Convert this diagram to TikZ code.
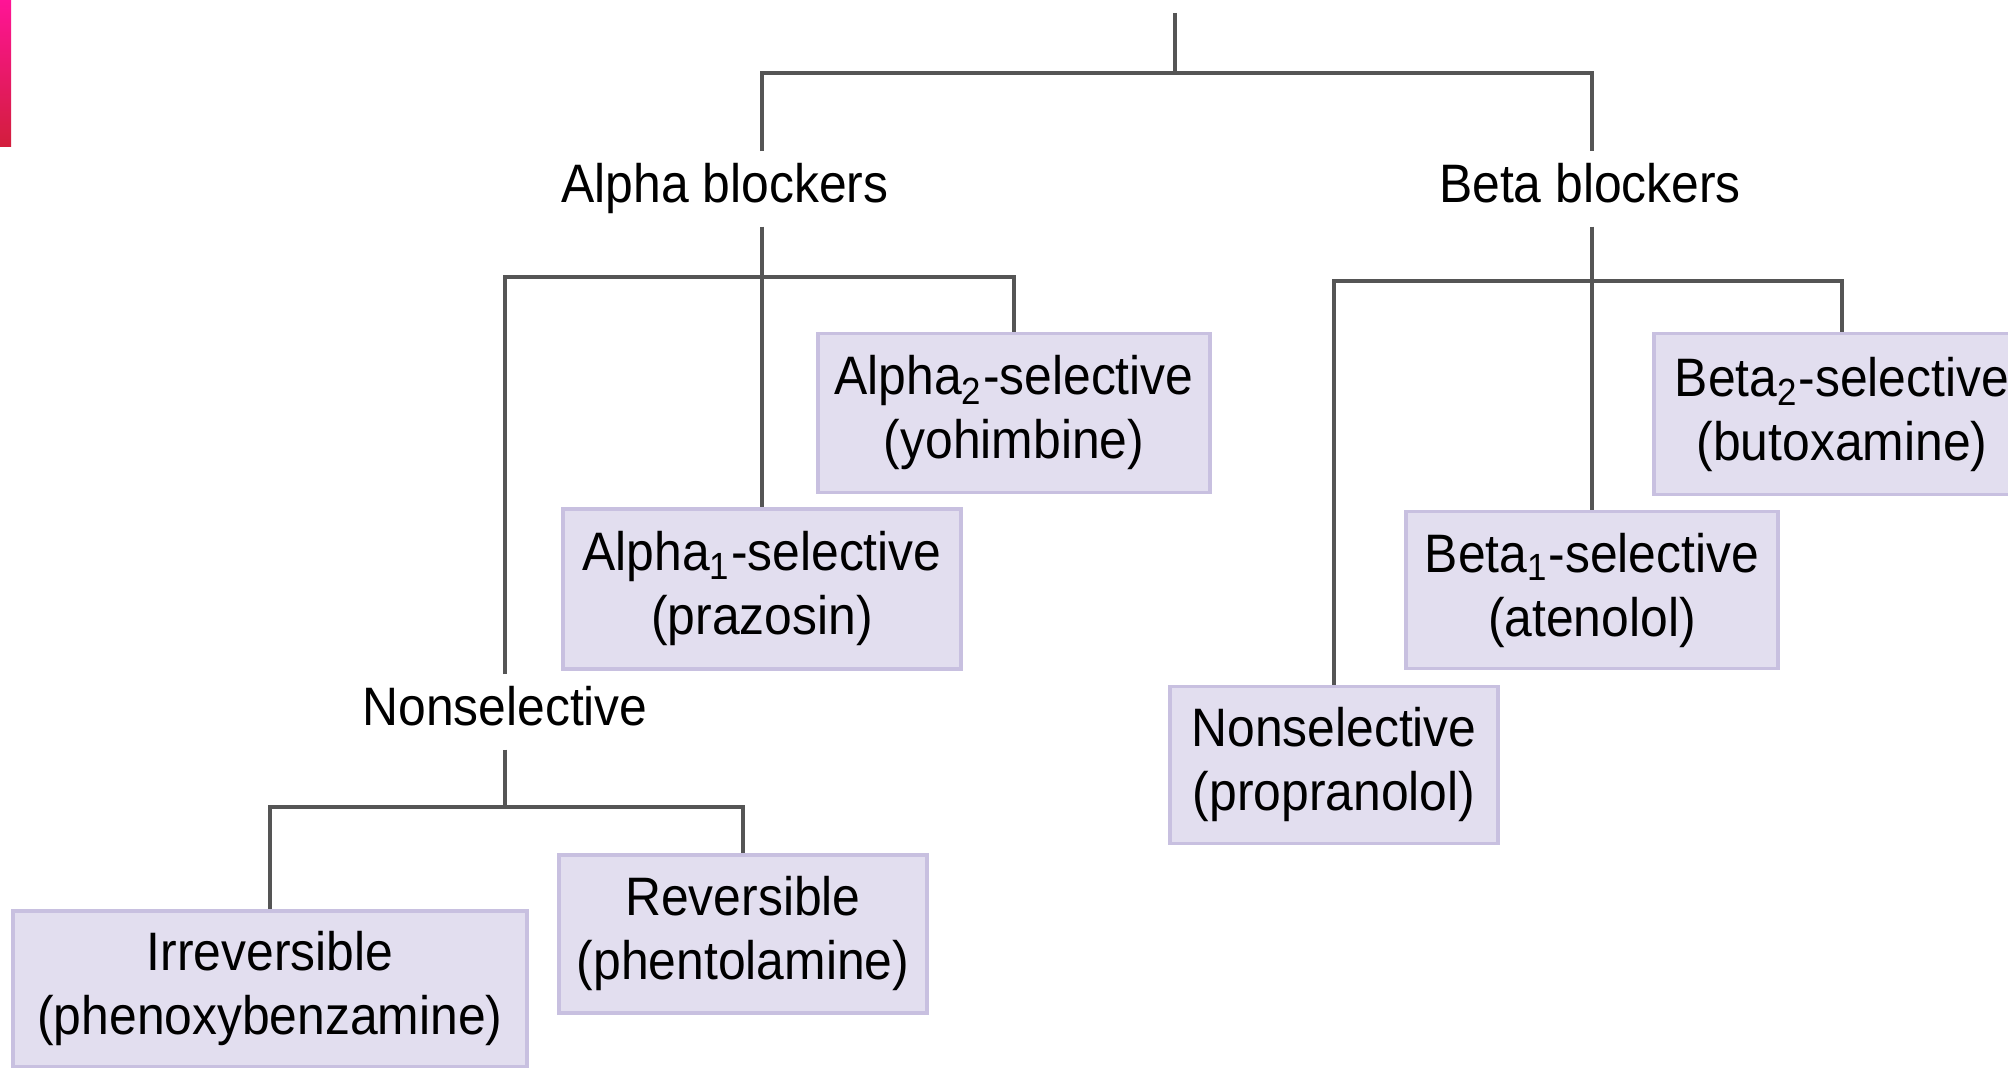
\documentclass[tikz,border=0pt]{standalone}
\usepackage{fontspec}
\setmainfont{Liberation Sans}[FakeStretch=0.92]
\usetikzlibrary{calc}

\begin{document}
\begin{tikzpicture}[x=0.01cm, y=-0.01cm,
  lbl/.style={font=\fontsize{15.4}{18.2}\selectfont, anchor=base, text depth=0.11cm, inner xsep=0pt, inner ysep=0.12cm},
  drug/.style={font=\fontsize{15.4}{18.2}\selectfont, align=center, draw=boxedge, fill=boxfill, line width=1.1pt, inner sep=0pt},
  conn/.style={draw=linegray, line width=1.1pt}]

%─────────────
% Controls
%─────────────
\definecolor{boxfill}{RGB}{226,222,239}  % lavender box
\definecolor{boxedge}{RGB}{200,192,224}
\definecolor{linegray}{RGB}{85,85,85}
\definecolor{pinktop}{RGB}{255,20,150}
\definecolor{pinkbot}{RGB}{210,30,60}

\useasboundingbox (0,0) rectangle (2008,1068);
\clip (0,0) rectangle (2008,1068);

% strip at the left edge
\shade[top color=pinktop, bottom color=pinkbot] (0,0) rectangle (11,147);

%─────────────
% Labels
%─────────────
\node[lbl] (alpha) at (725,203) {Alpha blockers};
\node[lbl] (beta) at (1590,203) {Beta blockers};
\node[lbl] (nonsel) at (505,726) {Nonselective};

%─────────────
% Drug boxes
%─────────────
\node[drug, minimum width=3.92cm, minimum height=1.59cm] (a2) at (1014,413) {Alpha\textsubscript{2}-selective\\(yohimbine)};
\node[drug, minimum width=3.97cm, minimum height=1.60cm] (a1) at (762,589) {Alpha\textsubscript{1}-selective\\(prazosin)};
\node[drug, minimum width=5.13cm, minimum height=1.56cm] (irr) at (270,989) {Irreversible\\(phenoxybenzamine)};
\node[drug, minimum width=3.68cm, minimum height=1.58cm] (rev) at (743,934) {Reversible\\(phentolamine)};
\node[drug, minimum width=3.76cm, minimum height=1.61cm] (b2) at (1842,414) {Beta\textsubscript{2}-selective\\(butoxamine)};
\node[drug, minimum width=3.72cm, minimum height=1.57cm] (b1) at (1592,590) {Beta\textsubscript{1}-selective\\(atenolol)};
\node[drug, minimum width=3.27cm, minimum height=1.57cm] (bns) at (1334,765) {Nonselective\\(propranolol)};

%─────────────
% Tree lines
%─────────────
\coordinate (root) at (1175,13);
\coordinate (rootbar) at (1175,73);
\coordinate (abar) at (0,277);
\coordinate (bbar) at (0,281);
\coordinate (nbar) at (0,807);

\draw[conn] (root) -- (rootbar);
\draw[conn] (a1.north |- alpha.north) |- (rootbar) -| (b1.north |- beta.north);

% alpha side
\draw[conn] (a1.north |- alpha.south) -- (a1.north);
\draw[conn] (nonsel.north) |- (a1.north |- abar) -| (a2.north);
\draw[conn] (nonsel.south) -- (nonsel.south |- nbar);
\draw[conn] (irr.north) |- (nonsel.south |- nbar) -| (rev.north);

% beta side
\draw[conn] (b1.north |- beta.south) -- (b1.north);
\draw[conn] (bns.north) |- (b1.north |- bbar) -| (b2.north);

\end{tikzpicture}
\end{document}
